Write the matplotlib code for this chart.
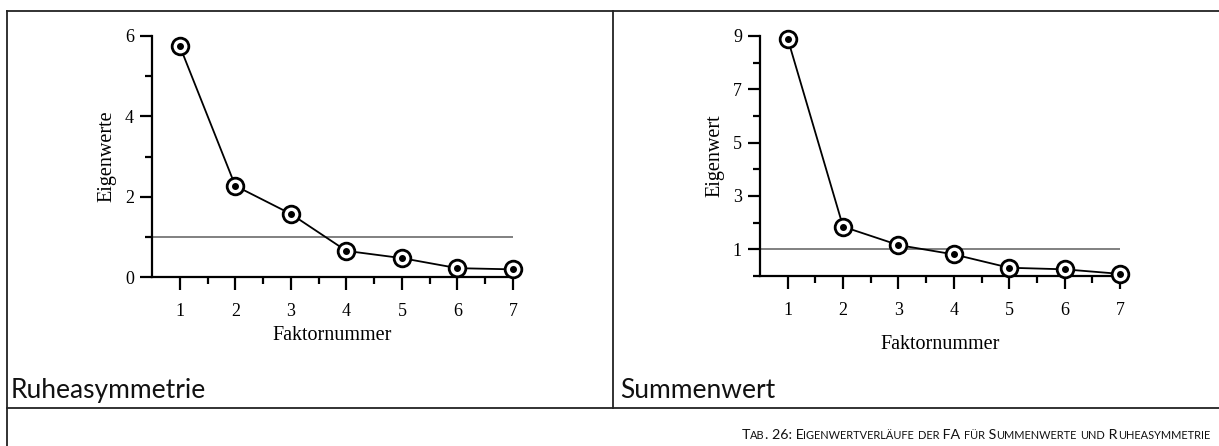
import matplotlib
matplotlib.use('Agg')
import matplotlib.pyplot as plt
from matplotlib.lines import Line2D
from matplotlib.offsetbox import TextArea, HPacker, AnchoredOffsetbox

# data
faktor = [1, 2, 3, 4, 5, 6, 7]
ruhe_eigen = [5.75, 2.27, 1.57, 0.65, 0.47, 0.22, 0.19]
summe_eigen = [8.9, 1.85, 1.16, 0.81, 0.31, 0.25, 0.08]
ruhe_yticks = [0, 2, 4, 6]
summe_yticks = [1, 3, 5, 7, 9]
panel_names = ['Ruheasymmetrie', 'Summenwert']
caption = 'Tab. 26: Eigenwertverläufe der FA für Summenwerte und Ruheasymmetrie'

W, H = 1219, 446
fig = plt.figure(figsize=(W / 100, H / 100), dpi=100)
serif = 'Liberation Serif'
sans = 'Lato'


def px_axes(x0, x1, y0, y1):
    # pixel box -> figure fraction
    return fig.add_axes([x0 / W, 1 - y1 / H, (x1 - x0) / W, (y1 - y0) / H])


def scree(ax, vals, ymax, yticks, yminor, ylabel, labelpad_x):
    ax.set_xlim(0.5, 7.0)
    ax.set_ylim(0, ymax)
    ax.axhline(1, color='#808080', lw=1.4, zorder=1)
    ax.plot(faktor, vals, color='black', lw=1.3, zorder=2, clip_on=False)
    ax.plot(faktor, vals, 'o', ms=12, mfc='white', mec='black', mew=2.0,
            zorder=3, clip_on=False)
    ax.plot(faktor, vals, 'o', ms=4, color='black', zorder=4, clip_on=False)
    for s in ['top', 'right']:
        ax.spines[s].set_visible(False)
    for s in ['left', 'bottom']:
        ax.spines[s].set_linewidth(1.6)
    ax.set_xticks(faktor)
    ax.set_xticks([1.5, 2.5, 3.5, 4.5, 5.5, 6.5], minor=True)
    ax.set_yticks(yticks)
    ax.set_yticks(yminor, minor=True)
    ax.tick_params(which='major', length=9, width=1.6, labelsize=13, pad=10)
    ax.tick_params(which='minor', length=5, width=1.6)
    ax.tick_params(axis='y', pad=4)
    for t in ax.get_xticklabels() + ax.get_yticklabels():
        t.set_fontfamily(serif)
    ax.set_xlabel('Faktornummer', fontsize=14.5, family=serif, labelpad=labelpad_x)
    ax.set_ylabel(ylabel, fontsize=14.5, family=serif, labelpad=6)


ax1 = px_axes(152, 513, 36, 277)
scree(ax1, ruhe_eigen, 6, ruhe_yticks, [1, 3, 5], 'Eigenwerte', 4)

ax2 = px_axes(760, 1120, 36, 276)
scree(ax2, summe_eigen, 9, summe_yticks, [0, 2, 4, 6, 8], 'Eigenwert', 11)

# frame lines
fc = '#222222'
fig.add_artist(Line2D([7 / W, 1], [1 - 11 / H] * 2, color=fc, lw=1.3))
fig.add_artist(Line2D([7 / W] * 2, [0, 1 - 11 / H], color=fc, lw=1.3))
fig.add_artist(Line2D([613 / W] * 2, [1 - 408 / H, 1 - 11 / H], color=fc, lw=1.3))
fig.add_artist(Line2D([7 / W, 1], [1 - 408 / H] * 2, color=fc, lw=1.3))

fig.text(11 / W, 1 - 398 / H, panel_names[0], fontsize=19, family=sans,
         va='baseline', color='#111111')
fig.text(620 / W, 1 - 398 / H, panel_names[1], fontsize=19, family=sans,
         va='baseline', color='#111111')

# caption in small caps
parts = []
buf = ''
cur = None
for ch in caption:
    big = not ch.islower()
    if cur is None or big == cur:
        buf += ch
    else:
        parts.append((buf, cur))
        buf = ch
    cur = big
parts.append((buf, cur))
boxes = []
for txt, big in parts:
    s = txt if big else txt.upper()
    boxes.append(TextArea(s, textprops=dict(fontsize=10.3 if big else 7.9,
                                            family=sans, color='#111111')))
pack = HPacker(children=boxes, align='baseline', pad=0, sep=0)
anch = AnchoredOffsetbox(loc='lower right', child=pack, pad=0, frameon=False,
                         bbox_to_anchor=(1210 / W, 1 - 441 / H),
                         bbox_transform=fig.transFigure, borderpad=0)
fig.add_artist(anch)

fig.savefig('out.png', dpi=100)
